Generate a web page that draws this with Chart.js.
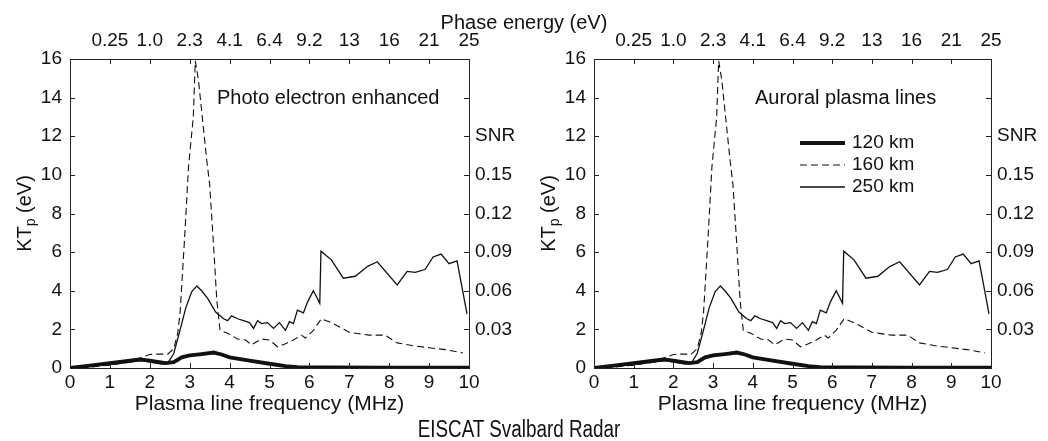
<!DOCTYPE html>
<html>
<head>
<meta charset="utf-8">
<script src="https://cdn.jsdelivr.net/npm/chart.js@4.4.1/dist/chart.umd.min.js"></script>
<style>
  body { margin: 0; background: #fff; width: 1048px; height: 441px; overflow: hidden; position: relative;
         font-family: 'Liberation Sans', Arial, sans-serif; color: #111; }
  canvas { position: absolute; top: 0; }
  #left { left: 0; }
  #right { left: 524px; }
  .lbl { position: absolute; left: 0; width: 1048px; text-align: center; white-space: nowrap; }
  #topTitle { top: 11px; font-size: 20px; line-height: 22px; }
  #footer { top: 416px; font-size: 23px; line-height: 26px; left: -5px;
            transform: scaleX(0.82); transform-origin: 50% 50%; }
</style>
</head>
<body>
<canvas id="left" width="524" height="441"></canvas>
<canvas id="right" width="524" height="441"></canvas>
<div class="lbl" id="topTitle">Phase energy (eV)</div>
<div class="lbl" id="footer">EISCAT Svalbard Radar</div>

<script>
// ---- data (MHz, eV) ----
const freq120 = [0, 0.5, 1.0, 1.5, 1.75, 2.0, 2.4, 2.6, 2.8, 3.0, 3.3, 3.6, 3.8, 4.0, 4.5, 5.0, 5.4, 5.7, 6.5, 8.0, 10.0];
const kt120   = [0, 0.12, 0.25, 0.38, 0.45, 0.38, 0.25, 0.3, 0.55, 0.65, 0.72, 0.8, 0.7, 0.55, 0.38, 0.22, 0.1, 0.05, 0.03, 0.02, 0.02];

const freq160 = [0, 0.5, 1.0, 1.5, 1.8, 2.0, 2.2, 2.45, 2.6, 2.7, 2.76, 2.88, 2.97, 3.09, 3.14, 3.22, 3.42, 3.5, 3.59, 3.68, 3.76,
                 3.95, 4.2, 4.4, 4.55, 4.8, 5.0, 5.2, 5.4, 5.6, 5.8, 5.9, 6.1, 6.3, 6.6, 7.0, 7.5, 7.9, 8.2, 8.6, 9.0, 9.4, 9.85];
const kt160   = [0, 0.05, 0.15, 0.3, 0.55, 0.7, 0.72, 0.72, 1.0, 1.8, 2.9, 7.0, 10.4, 13.0, 15.9, 14.9, 10.9, 9.5, 6.6, 3.5, 1.95,
                 1.8, 1.5, 1.45, 1.2, 1.5, 1.45, 1.1, 1.25, 1.45, 1.7, 1.55, 1.95, 2.55, 2.3, 1.85, 1.7, 1.7, 1.3, 1.15, 1.05, 0.95, 0.78];

const freq250 = [0, 0.5, 1.0, 1.5, 1.8, 2.0, 2.3, 2.45, 2.6, 2.75, 2.9, 3.05, 3.18, 3.3, 3.45, 3.65, 3.85, 3.95, 4.05, 4.2,
                 4.35, 4.5, 4.6, 4.7, 4.8, 4.95, 5.1, 5.25, 5.4, 5.5, 5.6, 5.7, 5.85, 5.95, 6.1, 6.2, 6.26, 6.29, 6.55, 6.85,
                 7.15, 7.45, 7.7, 8.2, 8.45, 8.65, 8.9, 9.1, 9.3, 9.5, 9.7, 9.95];
const kt250   = [0, 0.08, 0.18, 0.3, 0.38, 0.3, 0.2, 0.25, 0.75, 1.9, 3.1, 3.95, 4.25, 4.0, 3.6, 2.9, 2.55, 2.45, 2.7, 2.55,
                 2.45, 2.35, 2.05, 2.45, 2.3, 2.35, 2.05, 2.35, 1.95, 2.4, 2.3, 3.0, 2.85, 3.4, 4.0, 3.6, 3.35, 6.05, 5.6, 4.65,
                 4.75, 5.25, 5.5, 4.3, 5.0, 4.95, 5.1, 5.75, 5.9, 5.4, 5.55, 2.8];

const seriesLabels = ['120 km', '160 km', '250 km'];
const energyTickLabels = ['0.25', '1.0', '2.3', '4.1', '6.4', '9.2', '13', '16', '21', '25']; // at 1..10 MHz
const snrTickLabels = ['', '0.03', '0.06', '0.09', '0.12', '0.15', 'SNR', '', ''];           // at KT 0,2,..16
const panelNotes = ['Photo electron enhanced', 'Auroral plasma lines'];

const FONT = "'Liberation Sans', Arial, sans-serif";
const INK = '#111';

const zip = (xs, ys) => xs.map((x, i) => ({ x, y: ys[i] }));

// inward tick marks, note text, y title with subscript, legend
const decor = {
  id: 'decor',
  afterDraw(chart, args, opts) {
    const { ctx, chartArea: a, scales } = chart;
    ctx.save();
    ctx.strokeStyle = '#222';
    ctx.lineWidth = 1;
    const len = 5;
    ctx.beginPath();
    scales.x.ticks.forEach(t => {
      const px = Math.round(scales.x.getPixelForValue(t.value)) + 0.5;
      ctx.moveTo(px, a.bottom); ctx.lineTo(px, a.bottom - len);
    });
    scales.x2.ticks.forEach(t => {
      const px = Math.round(scales.x2.getPixelForValue(t.value)) + 0.5;
      ctx.moveTo(px, a.top); ctx.lineTo(px, a.top + len);
    });
    scales.y.ticks.forEach(t => {
      const py = Math.round(scales.y.getPixelForValue(t.value)) + 0.5;
      ctx.moveTo(a.left, py); ctx.lineTo(a.left + len, py);
    });
    scales.y2.ticks.forEach(t => {
      const py = Math.round(scales.y2.getPixelForValue(t.value)) + 0.5;
      ctx.moveTo(a.right, py); ctx.lineTo(a.right - len, py);
    });
    ctx.stroke();

    ctx.fillStyle = INK;
    ctx.font = '20px ' + FONT;
    ctx.textBaseline = 'middle';
    ctx.textAlign = 'left';
    ctx.fillText(opts.note, opts.noteX, opts.noteY);

    // y title: KT_p (eV)
    ctx.save();
    ctx.translate(opts.titleX, (a.top + a.bottom) / 2);
    ctx.rotate(-Math.PI / 2);
    const big = '20px ' + FONT, small = '14px ' + FONT;
    ctx.font = big; const w1 = ctx.measureText('KT').width; const w3 = ctx.measureText(' (eV)').width;
    ctx.font = small; const w2 = ctx.measureText('p').width;
    let x = -(w1 + w2 + w3) / 2;
    ctx.font = big; ctx.fillText('KT', x, 0); x += w1;
    ctx.font = small; ctx.fillText('p', x, 6); x += w2;
    ctx.font = big; ctx.fillText(' (eV)', x, 0);
    ctx.restore();

    if (opts.legend) {
      ctx.font = '19px ' + FONT;
      chart.data.datasets.forEach((ds, i) => {
        const y = opts.legendY + i * 22;
        ctx.save();
        ctx.lineWidth = ds.borderWidth;
        ctx.setLineDash(ds.borderDash || []);
        ctx.strokeStyle = ds.borderColor;
        ctx.beginPath();
        ctx.moveTo(opts.legendX, y); ctx.lineTo(opts.legendX + 45, y);
        ctx.stroke();
        ctx.restore();
        ctx.fillText(ds.label, opts.legendX + 52, y);
      });
    }
    ctx.restore();
  }
};

function makePanel(id, area, note, noteX, legend) {
  const canvas = document.getElementById(id);
  const H = canvas.height, W = canvas.width;
  const axisBase = {
    type: 'linear',
    grid: { display: false, drawTicks: false },
    border: { display: true, color: '#222', width: 1 }
  };
  return new Chart(canvas, {
    type: 'line',
    data: {
      datasets: [
        { label: seriesLabels[0], data: zip(freq120, kt120), borderColor: INK, borderWidth: 3.8 },
        { label: seriesLabels[1], data: zip(freq160, kt160), borderColor: INK, borderWidth: 1.1, borderDash: [7, 4] },
        { label: seriesLabels[2], data: zip(freq250, kt250), borderColor: INK, borderWidth: 1.3 }
      ]
    },
    options: {
      responsive: false,
      animation: false,
      layout: { padding: 0 },
      elements: { point: { radius: 0 }, line: { tension: 0, fill: false } },
      plugins: {
        legend: { display: false },
        tooltip: { enabled: false },
        decor: { note, noteX, noteY: 98, titleX: 25, legend, legendX: 276, legendY: 143 }
      },
      scales: {
        x: {
          ...axisBase, position: 'bottom', min: 0, max: 10,
          ticks: { stepSize: 1, autoSkip: false, maxRotation: 0, padding: 3, color: INK, font: { family: FONT, size: 19 } },
          title: { display: true, text: 'Plasma line frequency (MHz)', color: INK,
                   font: { family: FONT, size: 21 }, padding: { top: 0, bottom: 24 } },
          afterFit: s => { s.height = H - area.bottom; }
        },
        x2: {
          ...axisBase, position: 'top', min: 0, max: 10,
          ticks: { stepSize: 1, autoSkip: false, maxRotation: 0, minRotation: 0, padding: 7, color: INK,
                   font: { family: FONT, size: 19 }, callback: v => (v === 0 ? '' : energyTickLabels[v - 1]) },
          afterFit: s => { s.height = area.top; }
        },
        y: {
          ...axisBase, position: 'left', min: 0, max: 16,
          ticks: { stepSize: 2, padding: 8, color: INK, font: { family: FONT, size: 19 } },
          afterFit: s => { s.width = area.left; }
        },
        y2: {
          ...axisBase, position: 'right', min: 0, max: 16,
          ticks: { stepSize: 2, padding: 6, color: INK, font: { family: FONT, size: 19 },
                   callback: v => snrTickLabels[Math.round(v / 2)] },
          afterFit: s => { s.width = W - area.right; }
        }
      }
    },
    plugins: [decor]
  });
}

makePanel('left', { left: 70, right: 469, top: 59, bottom: 368 }, panelNotes[0], 217, false);
makePanel('right', { left: 70, right: 467, top: 59, bottom: 368 }, panelNotes[1], 231, true);
</script>
</body>
</html>
